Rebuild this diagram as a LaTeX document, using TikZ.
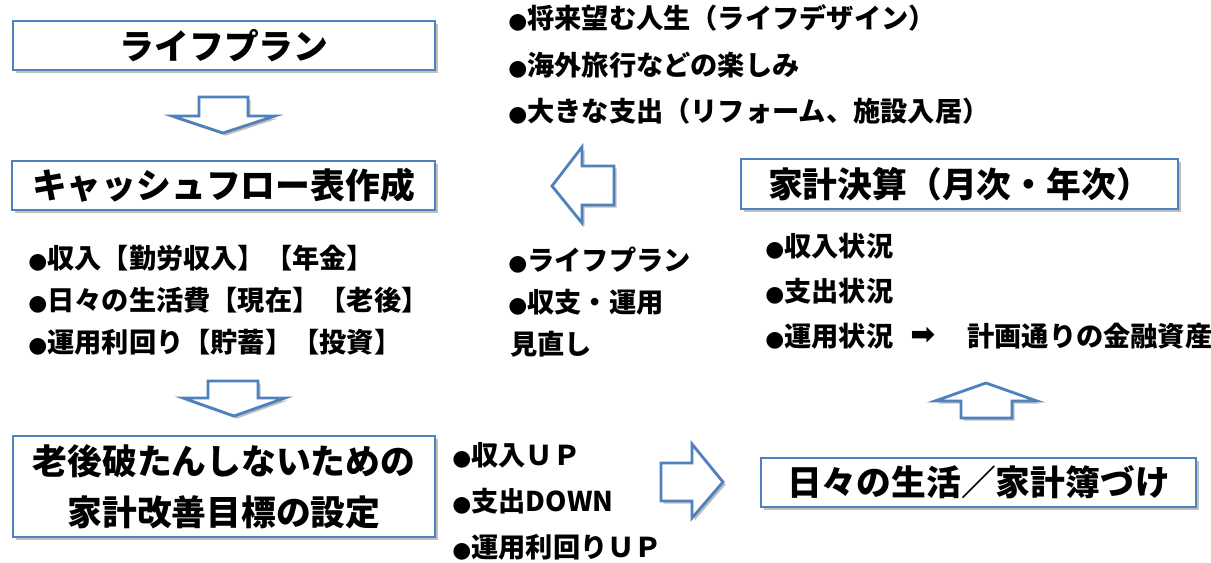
\documentclass[tikz,border=0pt]{standalone}
\usepackage{fontspec,graphicx}
\setmainfont{Noto Sans CJK JP}
\newfontfamily\symfont{DejaVu Sans}
\usetikzlibrary{shadows}
\definecolor{boxblue}{HTML}{4F81BD}
\newcommand{\bul}{{\symfont\scalebox{0.8}{●}}}
\begin{document}
\begin{tikzpicture}[x=0.02cm,y=-0.02cm,
    titlebox/.style={draw=boxblue,line width=1.6pt,fill=white,inner sep=0pt,
        font=\fontsize{19.8}{29}\selectfont\bfseries,
        drop shadow={shadow xshift=1.5pt,shadow yshift=-1.5pt,opacity=.25,fill=black}},
    item/.style={anchor=west,inner sep=0pt,text height=13.6pt,text depth=1.9pt,
        font=\fontsize{15.5}{19}\selectfont\bfseries},
    blockarrow/.style={draw=boxblue,line width=1.6pt,fill=white,line join=miter,
        drop shadow={shadow xshift=1.5pt,shadow yshift=-1.5pt,opacity=.25,fill=black}}]
    \useasboundingbox (0,0) rectangle (1211,563);
    % left column
    \node[titlebox,minimum width=8.44cm,minimum height=0.98cm] (plan) at (224,45.5) {ライフプラン};
    \node[titlebox,minimum width=8.46cm,minimum height=0.98cm] (cashflow) at (223.5,185.5) {キャッシュフロー表作成};
    \node[titlebox,minimum width=8.44cm,minimum height=2.02cm,align=center] (goal) at (224,486.5)
        {老後破たんしないための\\家計改善目標の設定};
    \draw[blockarrow] (199,97) -- (248,97) -- (248,116) -- (275,116) -- (223,133)
        -- (172,116) -- (199,116) -- cycle;
    \draw[blockarrow] (208,381) -- (258,381) -- (258,398) -- (285,398) -- (234,416)
        -- (183,398) -- (208,398) -- cycle;
    \node[item] (cf1) at (28,258) {\bul 収入【勤労収入】【年金】};
    \node[item] (cf2) at (28,300) {\bul 日々の生活費【現在】【老後】};
    \node[item] (cf3) at (28,342) {\bul 運用利回り【貯蓄】【投資】};
    % top middle
    \node[item] (lp1) at (508,18) {\bul 将来望む人生（ライフデザイン）};
    \node[item] (lp2) at (508,65) {\bul 海外旅行などの楽しみ};
    \node[item] (lp3) at (508,111) {\bul 大きな支出（リフォーム、施設入居）};
    \draw[blockarrow] (614,166) -- (582,166) -- (582,147) -- (552,186) -- (582,223)
        -- (582,205) -- (614,205) -- cycle;
    \node[item] (rv1) at (508,260) {\bul ライフプラン};
    \node[item] (rv2) at (508,302) {\bul 収支・運用};
    \node[item] (rv3) at (510,344) {見直し};
    % bottom middle
    \node[item] (gl1) at (452,455) {\bul 収入ＵＰ};
    \node[item] (gl2) at (452,501) {\bul 支出DOWN};
    \node[item] (gl3) at (452,547) {\bul 運用利回りＵＰ};
    \draw[blockarrow] (661,463) -- (692,463) -- (692,444) -- (723,482) -- (692,518)
        -- (692,501) -- (661,501) -- cycle;
    % right column
    \node[titlebox,minimum width=8.74cm,minimum height=1.0cm] (settle) at (959.5,184) {家計決算（月次・年次）};
    \node[titlebox,minimum width=8.7cm,minimum height=0.98cm] (daily) at (978.5,482.5) {日々の生活／家計簿づけ};
    \node[item] (st1) at (765,246) {\bul 収入状況};
    \node[item] (st2) at (765,291) {\bul 支出状況};
    \node[item] (st3) at (765,336) {\bul 運用状況};
    \node[inner sep=0pt,font=\symfont\bfseries\fontsize{17}{17}\selectfont] (st3arr) at (923,336) {➡};
    \node[item] (st3b) at (967,336) {計画通りの金融資産};
    \draw[blockarrow] (961,418) -- (961,401) -- (935,401) -- (986,383) -- (1037,401)
        -- (1012,401) -- (1012,418) -- cycle;
\end{tikzpicture}
\end{document}
